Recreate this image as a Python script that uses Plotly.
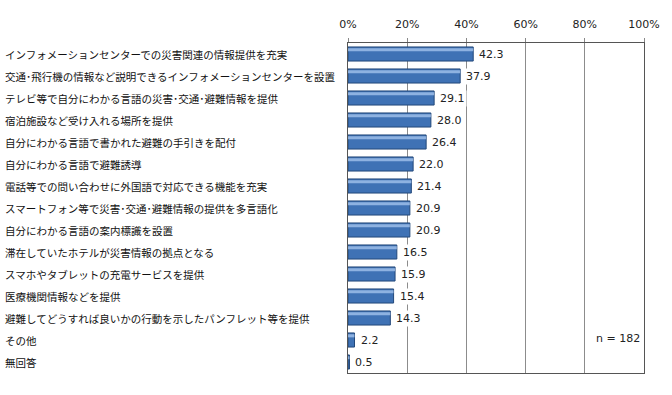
import plotly.graph_objects as go

categories = [
    "インフォメーションセンターでの災害関連の情報提供を充実",
    "交通･飛行機の情報など説明できるインフォメーションセンターを設置",
    "テレビ等で自分にわかる言語の災害･交通･避難情報を提供",
    "宿泊施設など受け入れる場所を提供",
    "自分にわかる言語で書かれた避難の手引きを配付",
    "自分にわかる言語で避難誘導",
    "電話等での問い合わせに外国語で対応できる機能を充実",
    "スマートフォン等で災害･交通･避難情報の提供を多言語化",
    "自分にわかる言語の案内標識を設置",
    "滞在していたホテルが災害情報の拠点となる",
    "スマホやタブレットの充電サービスを提供",
    "医療機関情報などを提供",
    "避難してどうすれば良いかの行動を示したパンフレット等を提供",
    "その他",
    "無回答",
]
values = [42.3, 37.9, 29.1, 28.0, 26.4, 22.0, 21.4, 20.9, 20.9, 16.5, 15.9, 15.4, 14.3, 2.2, 0.5]
tick_vals = [0, 20, 40, 60, 80, 100]
tick_text = ["0%", "20%", "40%", "60%", "80%", "100%"]
note = "n = 182"

font_family = "Noto Sans CJK JP, sans-serif"

fig = go.Figure()
fig.add_trace(go.Bar(
    x=values, y=categories, orientation="h",
    marker=dict(color="#3F72B5", line=dict(color="#23487A", width=1)),
    width=0.64,
    hoverinfo="skip",
))
# highlight strip for the glossy look
fig.add_trace(go.Bar(
    x=values, y=categories, orientation="h",
    marker=dict(color="rgba(170,200,240,0.75)", line=dict(width=0)),
    width=0.14, offset=-0.26,
    hoverinfo="skip",
))

# value labels with white background (hide gridlines behind them)
for c, v in zip(categories, values):
    fig.add_annotation(
        x=v, y=c, xref="x", yref="y", xshift=4,
        text=f"{v:.1f}", showarrow=False, xanchor="left", yanchor="middle",
        bgcolor="white", borderpad=1,
        font=dict(size=11, color="#222", family="DejaVu Sans"),
    )

for c in categories:
    fig.add_annotation(
        x=0, xref="paper", xshift=-345, y=c, yref="y",
        text=c, showarrow=False, xanchor="left", yanchor="middle",
        font=dict(size=10.5, color="#111", family=font_family),
    )

fig.add_annotation(
    x=0.83, xref="paper", y=categories[13], yref="y", yshift=2,
    text=note, showarrow=False, xanchor="left", yanchor="middle",
    font=dict(size=11, color="#222", family="DejaVu Sans"),
)

fig.update_layout(
    width=672, height=395,
    margin=dict(l=348, r=24, t=43, b=22),
    paper_bgcolor="white", plot_bgcolor="white",
    showlegend=False,
    barmode="overlay",
)
fig.update_xaxes(
    range=[0, 100], side="top", tickmode="array", tickvals=tick_vals, ticktext=tick_text,
    showgrid=True, gridcolor="#8C8C8C", gridwidth=1,
    showline=True, linecolor="#555", linewidth=1, mirror=True,
    ticks="outside", ticklen=4, tickcolor="#888", ticklabelstandoff=6,
    tickfont=dict(size=11, color="#222", family="DejaVu Sans"),
    zeroline=False,
)
fig.update_yaxes(
    categoryorder="array", categoryarray=categories,
    range=[len(categories) - 0.5, -0.5],
    showticklabels=False, showgrid=False,
    showline=True, linecolor="#555", linewidth=1, mirror=True,
    ticks="",
)

fig.write_html("out.html", config={"displayModeBar": False},
               post_script="document.body.style.margin='0';")
